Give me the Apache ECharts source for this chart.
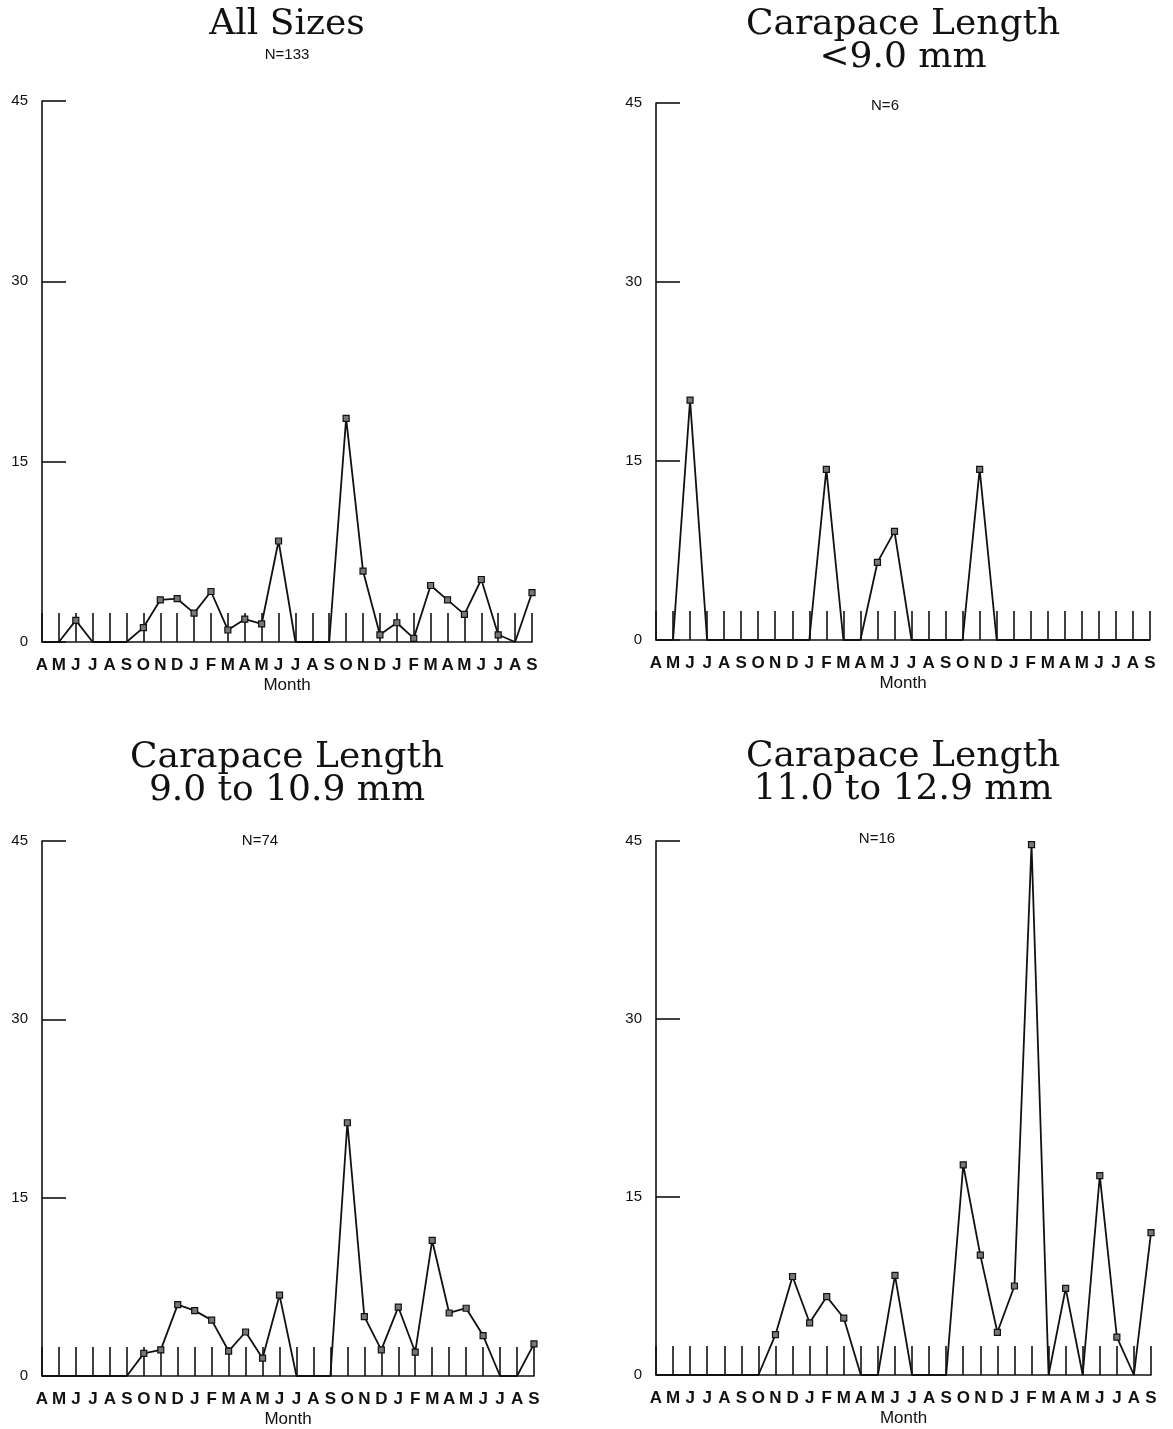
<!DOCTYPE html>
<html>
<head>
<meta charset="utf-8">
<script src="https://cdn.jsdelivr.net/npm/echarts@6/dist/echarts.min.js"></script>
<style>
html, body { margin: 0; padding: 0; background: #fff; }
#chart { width: 1173px; height: 1429px; }
</style>
</head>
<body>
<div id="chart"></div>
<script>
// Month sequence: April of year 1 through September of year 3
const months = ['A','M','J','J','A','S','O','N','D','J','F','M','A','M','J','J','A','S','O','N','D','J','F','M','A','M','J','J','A','S'];

// Monthly values for each size class
const allSizes   = [0, 0, 1.8, 0, 0, 0, 1.2, 3.5, 3.6, 2.4, 4.2, 1.0, 1.9, 1.5, 8.4, 0, 0, 0, 18.6, 5.9, 0.6, 1.6, 0.3, 4.7, 3.5, 2.3, 5.2, 0.6, 0, 4.1];
const under9     = [0, 0, 20.1, 0, 0, 0, 0, 0, 0, 0, 14.3, 0, 0, 6.5, 9.1, 0, 0, 0, 0, 14.3, 0, 0, 0, 0, 0, 0, 0, 0, 0, 0];
const cl9to10    = [0, 0, 0, 0, 0, 0, 1.9, 2.2, 6.0, 5.5, 4.7, 2.1, 3.7, 1.5, 6.8, 0, 0, 0, 21.3, 5.0, 2.2, 5.8, 2.0, 11.4, 5.3, 5.7, 3.4, 0, 0, 2.7];
const cl11to12   = [0, 0, 0, 0, 0, 0, 0, 3.4, 8.3, 4.4, 6.6, 4.8, 0, 0, 8.4, 0, 0, 0, 17.7, 10.1, 3.6, 7.5, 44.7, 0, 7.3, 0, 16.8, 3.2, 0, 12.0];

// Y-axis scale and tick labels
const yMin = 0, yMax = 45, yStep = 15;
const yTickLabels = ['0', '15', '30', '45'];

// Panel headings and sample sizes
const panelTitles = [
  'All Sizes',
  'Carapace Length\n<9.0 mm',
  'Carapace Length\n9.0 to 10.9 mm',
  'Carapace Length\n11.0 to 12.9 mm'
];
const sampleSizes = ['N=133', 'N=6', 'N=74', 'N=16'];
const seriesData = [allSizes, under9, cl9to10, cl11to12];

// Layout of the four plots
const panels = [
  { left: 42,  top: 101, width: 490, height: 541, titleX: 287, titleTop: 8,   nX: 287, nTop: 46 },
  { left: 656, top: 103, width: 494, height: 537, titleX: 903, titleTop: 8,   nX: 885, nTop: 97 },
  { left: 42,  top: 841, width: 492, height: 537, titleX: 287, titleTop: 741, nX: 260, nTop: 832 },
  { left: 656, top: 841, width: 495, height: 534, titleX: 903, titleTop: 740, nX: 877, nTop: 830 }
];

const ink = '#111';
const serif = 'DejaVu Serif';
const sans = 'Liberation Sans';

const option = {
  backgroundColor: '#fff',
  animation: false,
  title: [],
  grid: [],
  xAxis: [],
  yAxis: [],
  series: []
};

panels.forEach((p, i) => {
  option.title.push({
    text: panelTitles[i],
    left: p.titleX,
    top: p.titleTop,
    padding: 0,
    textAlign: 'center',
    textStyle: { fontFamily: serif, fontSize: 36, fontWeight: 'normal', color: ink, lineHeight: 33 }
  });
  option.title.push({
    text: sampleSizes[i],
    left: p.nX,
    top: p.nTop,
    padding: 0,
    textAlign: 'center',
    textStyle: { fontFamily: sans, fontSize: 15, fontWeight: 'normal', color: ink, lineHeight: 18 }
  });
  option.grid.push({ left: p.left, top: p.top, width: p.width, height: p.height });
  option.xAxis.push({
    type: 'category',
    gridIndex: i,
    data: months,
    boundaryGap: false,
    name: 'Month',
    nameLocation: 'middle',
    nameGap: 35,
    nameTextStyle: { fontFamily: sans, fontSize: 17, color: ink },
    axisLine: { lineStyle: { color: ink, width: 1.6 } },
    axisTick: { show: true, inside: true, length: 29, interval: 0, lineStyle: { color: ink, width: 1.6 } },
    axisLabel: { interval: 0, margin: 15, fontFamily: sans, fontSize: 17, fontWeight: 'bold', color: ink },
    splitLine: { show: false }
  });
  option.yAxis.push({
    type: 'value',
    gridIndex: i,
    min: yMin,
    max: yMax,
    interval: yStep,
    axisLine: { show: true, lineStyle: { color: ink, width: 1.6 } },
    axisTick: { show: true, inside: true, length: 24, lineStyle: { color: ink, width: 1.6 } },
    axisLabel: {
      margin: 14, fontFamily: sans, fontSize: 15, color: ink,
      formatter: (v) => yTickLabels[Math.round((v - yMin) / yStep)] ?? ''
    },
    splitLine: { show: false }
  });
  option.series.push({
    type: 'line',
    xAxisIndex: i,
    yAxisIndex: i,
    data: seriesData[i],
    symbol: 'rect',
    showAllSymbol: true,
    symbolSize: (v) => (v > 0 ? 6 : 0),
    lineStyle: { color: ink, width: 1.8 },
    itemStyle: { color: '#777', borderColor: ink, borderWidth: 1.2 },
    emphasis: { disabled: true },
    z: 3
  });
});

const chart = echarts.init(document.getElementById('chart'), null, { renderer: 'canvas' });
chart.setOption(option);
</script>
</body>
</html>
